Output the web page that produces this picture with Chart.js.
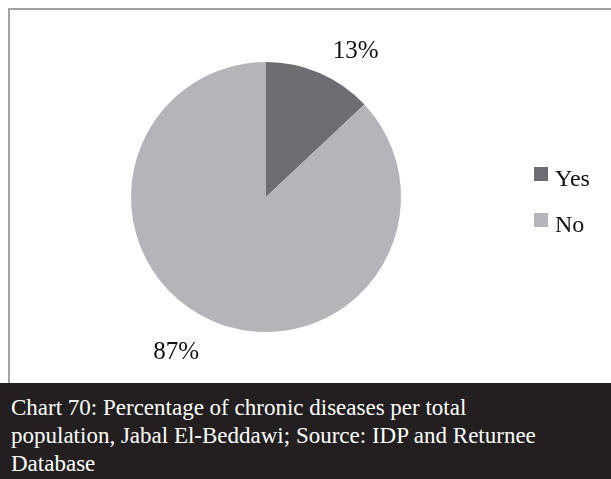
<!DOCTYPE html>
<html>
<head>
<meta charset="utf-8">
<script src="https://cdn.jsdelivr.net/npm/chart.js@4"></script>
<style>
  body { margin: 0; background: #fff; }
  #wrap { position: relative; width: 611px; height: 479px; overflow: hidden; }
  #frame { position: absolute; left: 8px; top: 8px; width: 620px; height: 373px; border: 2px solid #a3a3a5; }
  #chartBox { position: absolute; left: 0; top: 0; width: 611px; height: 383px; }
  #caption {
    position: absolute; left: 0; top: 383px; width: 611px; height: 96px;
    background: #231f20; color: #fff; box-sizing: border-box; padding: 11px 0 0 11px;
    font-family: "Liberation Serif", "Times New Roman", serif; font-size: 23px; line-height: 28px;
  }
</style>
</head>
<body>
<div id="wrap">
  <div id="frame"></div>
  <div id="chartBox"><canvas id="pie"></canvas></div>
  <div id="caption">Chart 70: Percentage of chronic diseases per total<br>population, Jabal El-Beddawi; Source: IDP and Returnee<br>Database</div>
</div>
<script>
var categories = ['Yes', 'No'];
var shares = [13, 87];
var colors = ['#6d6e71', '#b3b5b8'];

var serif = '"Liberation Serif", "Times New Roman", serif';

// percentage labels outside the slices
var outsideLabels = {
  id: 'outsideLabels',
  afterDatasetsDraw: function (chart) {
    var ctx = chart.ctx;
    var meta = chart.getDatasetMeta(0);
    ctx.save();
    ctx.font = '25px ' + serif;
    ctx.fillStyle = '#111';
    ctx.textAlign = 'center';
    ctx.textBaseline = 'middle';
    meta.data.forEach(function (arc, i) {
      var mid = (arc.startAngle + arc.endAngle) / 2 + 0.13;
      var r = arc.outerRadius + 40;
      ctx.fillText(shares[i] + '%', arc.x + Math.cos(mid) * r, arc.y + Math.sin(mid) * r + 5);
    });
    ctx.restore();
  }
};

// legend on the right
var sideLegend = {
  id: 'sideLegend',
  afterDraw: function (chart) {
    var ctx = chart.ctx;
    ctx.save();
    ctx.font = '24px ' + serif;
    ctx.textBaseline = 'middle';
    categories.forEach(function (c, i) {
      var y = 174 + i * 46;
      ctx.fillStyle = colors[i];
      ctx.fillRect(534, y - 7, 14, 14);
      ctx.fillStyle = '#111';
      ctx.fillText(c, 555, y + 6);
    });
    ctx.restore();
  }
};

var ctx = document.getElementById('pie').getContext('2d');
var myChart = new Chart(ctx, {
  type: 'pie',
  data: {
    labels: categories,
    datasets: [{
      data: shares,
      backgroundColor: colors,
      borderWidth: 0
    }]
  },
  options: {
    responsive: true,
    maintainAspectRatio: false,
    animation: false,
    layout: { padding: { top: 62, bottom: 51, left: 131, right: 210 } },
    plugins: {
      legend: { display: false },
      tooltip: { enabled: false }
    }
  },
  plugins: [outsideLabels, sideLegend]
});
</script>
</body>
</html>
